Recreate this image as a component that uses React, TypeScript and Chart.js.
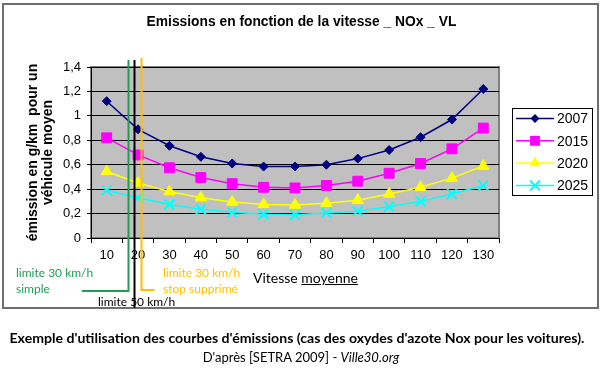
import React, { useEffect, useRef } from "react";
import { Chart, registerables } from "chart.js";

Chart.register(...registerables);

const speedLabels = ["10", "20", "30", "40", "50", "60", "70", "80", "90", "100", "110", "120", "130"];
const seriesNames = ["2007", "2015", "2020", "2025"];
const nox2007 = [1.12, 0.89, 0.755, 0.665, 0.61, 0.585, 0.585, 0.6, 0.65, 0.72, 0.825, 0.97, 1.22];
const nox2015 = [0.82, 0.68, 0.575, 0.495, 0.445, 0.415, 0.41, 0.43, 0.465, 0.53, 0.61, 0.73, 0.9];
const nox2020 = [0.545, 0.45, 0.38, 0.33, 0.295, 0.275, 0.27, 0.285, 0.31, 0.36, 0.415, 0.49, 0.59];
const nox2025 = [0.39, 0.33, 0.275, 0.235, 0.21, 0.195, 0.19, 0.205, 0.22, 0.255, 0.3, 0.36, 0.43];
const yTickLabels = ["0", "0,2", "0,4", "0,6", "0,8", "1", "1,2", "1,4"];
const seriesColors = ["#000080", "#FF00FF", "#FFFF00", "#00FFFF"];
const seriesMarkers = ["rectRot", "rect", "triangle", "crossRot"];
const markerRadius = [4.5, 7, 6.5, 7];
// speed positions of the annotation lines (green: 30 simple, black: 50, orange: 30 stop supprimé)
const limitSpeeds = [16.8, 18.6, 20.8];
const limitColors = ["#1E9E55", "#000000", "#FFC000"];

const CHART_FONT = "'Liberation Sans', Arial, sans-serif";
const NOTE_FONT = "Lato, 'Open Sans', sans-serif";

function drawMarker(ctx: CanvasRenderingContext2D, style: string, x: number, y: number, r: number) {
  ctx.beginPath();
  if (style === "rectRot") {
    ctx.moveTo(x - r, y);
    ctx.lineTo(x, y - r);
    ctx.lineTo(x + r, y);
    ctx.lineTo(x, y + r);
    ctx.closePath();
    ctx.fill();
  } else if (style === "rect") {
    const s = r * Math.SQRT1_2;
    ctx.rect(x - s, y - s, 2 * s, 2 * s);
    ctx.fill();
  } else if (style === "triangle") {
    let rad = 0;
    ctx.moveTo(x + Math.sin(rad) * r, y - Math.cos(rad) * r);
    rad += (2 * Math.PI) / 3;
    ctx.lineTo(x + Math.sin(rad) * r, y - Math.cos(rad) * r);
    rad += (2 * Math.PI) / 3;
    ctx.lineTo(x + Math.sin(rad) * r, y - Math.cos(rad) * r);
    ctx.closePath();
    ctx.fill();
  } else {
    const d = r * Math.SQRT1_2;
    ctx.moveTo(x - d, y - d);
    ctx.lineTo(x + d, y + d);
    ctx.moveTo(x - d, y + d);
    ctx.lineTo(x + d, y - d);
    ctx.lineWidth = 2;
    ctx.stroke();
  }
}

const overlayPlugin = {
  id: "overlay",
  beforeDraw(chart: any) {
    const { ctx, chartArea: a } = chart;
    ctx.save();
    ctx.fillStyle = "#C0C0C0";
    ctx.fillRect(a.left, a.top, a.right - a.left, a.bottom - a.top);
    ctx.strokeStyle = "#808080";
    ctx.lineWidth = 2;
    ctx.strokeRect(a.left, a.top, a.right - a.left, a.bottom - a.top);
    ctx.restore();
  },
  afterDatasetsDraw(chart: any) {
    const { ctx, chartArea: a } = chart;
    const xs = chart.scales.x;
    const px = (s: number) => Math.round(xs.getPixelForValue((s - 10) / 10)) + 0.5;
    ctx.save();
    ctx.lineWidth = 2;
    // green
    const g = px(limitSpeeds[0]);
    ctx.strokeStyle = limitColors[0];
    ctx.beginPath();
    ctx.moveTo(g, a.top - 7);
    ctx.lineTo(g, a.bottom + 53);
    ctx.lineTo(a.left - 9, a.bottom + 53);
    ctx.stroke();
    // black
    const b = px(limitSpeeds[1]);
    ctx.strokeStyle = limitColors[1];
    ctx.beginPath();
    ctx.moveTo(b, a.top - 7);
    ctx.lineTo(b, a.bottom + 70);
    ctx.stroke();
    // orange
    const o = px(limitSpeeds[2]);
    ctx.strokeStyle = limitColors[2];
    ctx.beginPath();
    ctx.moveTo(o, a.top - 9);
    ctx.lineTo(o, a.bottom + 52);
    ctx.lineTo(o + 13, a.bottom + 52);
    ctx.stroke();
    ctx.restore();
  },
  afterDraw(chart: any) {
    const { ctx, chartArea: a } = chart;
    const bx = a.right + 13;
    const by = a.top + 41;
    const bw = 80;
    const bh = 87;
    ctx.save();
    ctx.fillStyle = "#FFFFFF";
    ctx.fillRect(bx, by, bw, bh);
    ctx.strokeStyle = "#000000";
    ctx.lineWidth = 1;
    ctx.strokeRect(bx + 0.5, by + 0.5, bw, bh);
    ctx.font = "14px " + CHART_FONT;
    ctx.textBaseline = "middle";
    ctx.textAlign = "left";
    chart.data.datasets.forEach((ds: any, i: number) => {
      const y = by + 10.5 + i * 22.3;
      ctx.strokeStyle = ds.borderColor;
      ctx.fillStyle = ds.borderColor;
      ctx.lineWidth = 1.5;
      ctx.beginPath();
      ctx.moveTo(bx + 4, y);
      ctx.lineTo(bx + 42, y);
      ctx.stroke();
      drawMarker(ctx, seriesMarkers[i], bx + 23, y, markerRadius[i]);
      ctx.fillStyle = "#000000";
      ctx.fillText(ds.label, bx + 45, y + 1);
    });
    ctx.restore();
  },
};

export default function App() {
  const canvasRef = useRef<HTMLCanvasElement | null>(null);

  useEffect(() => {
    const canvas = canvasRef.current;
    if (!canvas) return;
    const values = [nox2007, nox2015, nox2020, nox2025];
    const chart = new Chart(canvas, {
      type: "line",
      data: {
        labels: speedLabels,
        datasets: seriesNames.map((name, i) => ({
          label: name,
          data: values[i],
          borderColor: seriesColors[i],
          backgroundColor: seriesColors[i],
          pointBackgroundColor: seriesColors[i],
          pointBorderColor: seriesColors[i],
          pointStyle: seriesMarkers[i] as any,
          pointRadius: markerRadius[i],
          pointBorderWidth: i === 3 ? 2 : 1,
          borderWidth: 1.5,
          tension: 0,
          fill: false,
        })),
      },
      options: {
        animation: false,
        responsive: false,
        maintainAspectRatio: false,
        layout: { padding: { left: 10, right: 104, top: 67, bottom: 93 } },
        plugins: {
          legend: { display: false },
          title: { display: false },
          tooltip: { enabled: false },
        },
        scales: {
          x: {
            type: "category",
            offset: true,
            grid: { offset: true, drawOnChartArea: false, tickLength: 5, tickColor: "#000000", tickWidth: 1 },
            border: { color: "#000000", width: 1 },
            ticks: {
              font: { family: CHART_FONT, size: 13 },
              color: "#000000",
              padding: 5,
              maxRotation: 0,
              autoSkip: false,
            },
            afterFit: (s: any) => {
              s.height = 40;
            },
          },
          y: {
            min: 0,
            max: 1.4,
            grid: { color: "#000000", tickLength: 4, tickColor: "#000000", lineWidth: 1 },
            border: { color: "#000000", width: 1 },
            ticks: {
              stepSize: 0.2,
              font: { family: CHART_FONT, size: 13 },
              color: "#000000",
              padding: 6,
              callback: (_v: any, idx: number) => yTickLabels[idx],
            },
            title: {
              display: true,
              text: ["émission en g/km  pour un", "véhicule moyen"],
              font: { family: CHART_FONT, size: 14, weight: "bold", lineHeight: 1.1 },
              color: "#000000",
              padding: { top: 15, bottom: 0 },
            },
            afterFit: (s: any) => {
              s.width = 81;
            },
          },
        },
      },
      plugins: [overlayPlugin],
    });
    return () => chart.destroy();
  }, []);

  const note = (text: string, left: number, cy: number, color: string, size = 12) => (
    <div
      style={{
        position: "absolute",
        left,
        top: cy - 9,
        height: 18,
        lineHeight: "18px",
        fontFamily: NOTE_FONT,
        fontSize: size,
        color,
        whiteSpace: "nowrap",
      }}
    >
      {text}
    </div>
  );

  return (
    <div style={{ position: "absolute", left: 0, top: 0, width: 603, height: 371, background: "#fff", overflow: "hidden" }}>
      <div
        style={{
          position: "absolute",
          left: 2,
          top: 3,
          width: 597,
          height: 306,
          border: "2px solid #6E6E6E",
          boxSizing: "border-box",
        }}
      />
      <canvas ref={canvasRef} width={603} height={371} style={{ position: "absolute", left: 0, top: 0, width: 603, height: 371 }} />
      <div
        style={{
          position: "absolute",
          left: 0,
          top: 13,
          width: 603,
          textAlign: "center",
          fontFamily: CHART_FONT,
          fontWeight: "bold",
          fontSize: 13.8,
          lineHeight: "18px",
          whiteSpace: "nowrap",
        }}
      >
        Emissions en fonction de la vitesse _ NOx _ VL
      </div>
      {note("limite 30 km/h", 16, 273, limitColors[0])}
      {note("simple", 16, 289, limitColors[0])}
      {note("limite 30 km/h", 163, 273, limitColors[2])}
      {note("stop supprimé", 163, 289, limitColors[2])}
      {note("limite 50 km/h", 98, 302, "#000000")}
      <div
        style={{
          position: "absolute",
          left: 253,
          top: 269,
          lineHeight: "18px",
          fontFamily: NOTE_FONT,
          fontSize: 14,
          color: "#000",
          whiteSpace: "nowrap",
        }}
      >
        Vitesse <span style={{ textDecoration: "underline" }}>moyenne</span>
      </div>
      <div
        style={{
          position: "absolute",
          left: 0,
          top: 329,
          width: 594,
          textAlign: "center",
          fontFamily: NOTE_FONT,
          fontWeight: "bold",
          fontSize: 14.1,
          lineHeight: "18px",
          whiteSpace: "nowrap",
          color: "#000",
        }}
      >
        Exemple d'utilisation des courbes d'émissions (cas des oxydes d'azote Nox pour les voitures).
      </div>
      <div
        style={{
          position: "absolute",
          left: 0,
          top: 348,
          width: 602,
          textAlign: "center",
          fontFamily: NOTE_FONT,
          fontSize: 13,
          lineHeight: "18px",
          whiteSpace: "nowrap",
          color: "#000",
        }}
      >
        D'après [SETRA 2009] - <i>Ville30.org</i>
      </div>
    </div>
  );
}
